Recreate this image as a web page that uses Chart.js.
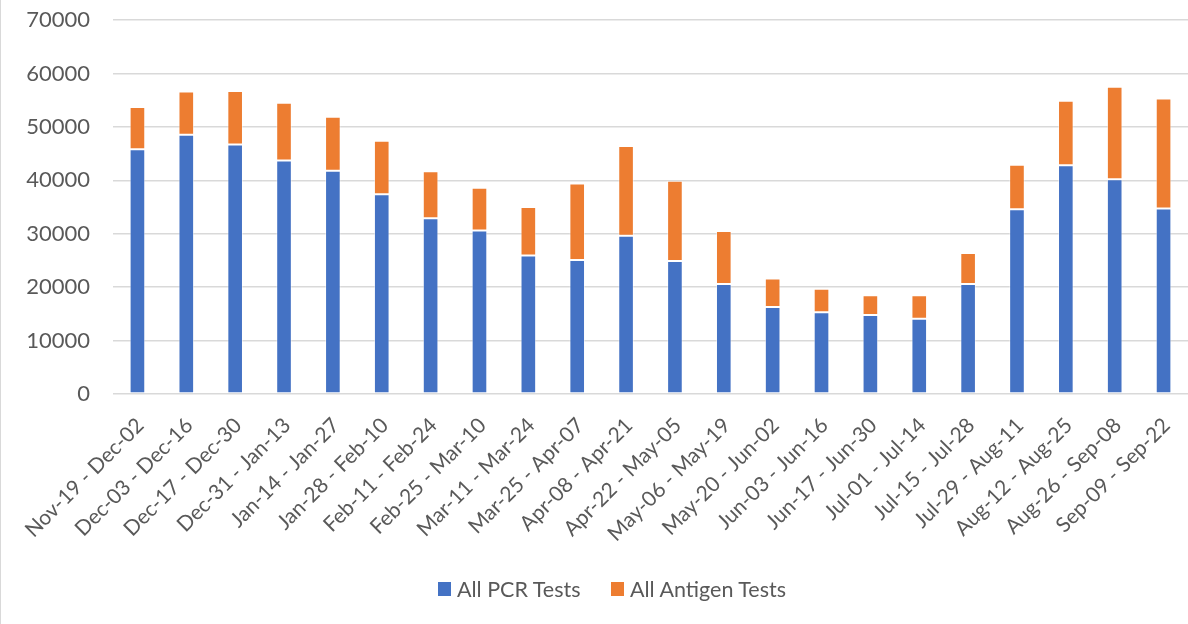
<!DOCTYPE html>
<html>
<head>
<meta charset="utf-8">
<script src="https://cdn.jsdelivr.net/npm/chart.js@4/dist/chart.umd.min.js"></script>
<style>
  html, body { margin: 0; padding: 0; background: #ffffff; overflow: hidden; }
  #wrap { position: relative; width: 1188px; height: 624px; }
  #edge { position: absolute; left: 0; top: 0; width: 1px; height: 624px; background: #d9d9d9; }
  #legend { position: absolute; top: 576px; left: 0; width: 1188px; height: 26px;
            font-family: Lato, "Open Sans", sans-serif; font-size: 21.5px; color: #595959; }
  .item { position: absolute; top: 0; display: flex; align-items: center; height: 26px; white-space: nowrap; }
  .box { width: 13px; height: 14px; margin-right: 6px; }
</style>
</head>
<body>
<div id="wrap">
  <canvas id="c" width="1188" height="624"></canvas>
  <div id="edge"></div>
  <div id="legend"></div>
</div>
<script>
const categories = [
  "Nov-19 - Dec-02", "Dec-03 - Dec-16", "Dec-17 - Dec-30", "Dec-31 - Jan-13",
  "Jan-14 - Jan-27", "Jan-28 - Feb-10", "Feb-11 - Feb-24", "Feb-25 - Mar-10",
  "Mar-11 - Mar-24", "Mar-25 - Apr-07", "Apr-08 - Apr-21", "Apr-22 - May-05",
  "May-06 - May-19", "May-20 - Jun-02", "Jun-03 - Jun-16", "Jun-17 - Jun-30",
  "Jul-01 - Jul-14", "Jul-15 - Jul-28", "Jul-29 - Aug-11", "Aug-12 - Aug-25",
  "Aug-26 - Sep-08", "Sep-09 - Sep-22"
];
const pcrTests = [
  45800, 48500, 46700, 43700, 41800, 37400, 32900, 30600, 25900, 25100, 29600,
  24900, 20600, 16300, 15300, 14800, 14100, 20600, 34600, 42800, 40200, 34700
];
const antigenTests = [
  7900, 8100, 10000, 10800, 10100, 10000, 8800, 8000, 9100, 14300, 16800,
  15000, 9900, 5300, 4400, 3700, 4400, 5800, 8300, 12100, 17300, 20600
];
const yTicks = [0, 10000, 20000, 30000, 40000, 50000, 60000, 70000];
const seriesNames = ["All PCR Tests", "All Antigen Tests"];
const seriesColors = ["#4472C4", "#ED7D31"];

const FONT = "Lato, 'Open Sans', sans-serif";

new Chart(document.getElementById("c"), {
  type: "bar",
  data: {
    labels: categories,
    datasets: [
      { label: seriesNames[0], data: pcrTests, backgroundColor: seriesColors[0],
        borderColor: "rgba(255,255,255,0.45)", borderWidth: 1, borderSkipped: false },
      { label: seriesNames[1], data: antigenTests, backgroundColor: seriesColors[1],
        borderColor: "rgba(255,255,255,0.45)", borderWidth: 1, borderSkipped: false }
    ]
  },
  options: {
    responsive: false,
    animation: false,
    devicePixelRatio: 1,
    datasets: { bar: { categoryPercentage: 1.0, barPercentage: 0.32 } },
    layout: { padding: { left: 0, top: 20, right: -3, bottom: 70 } },
    plugins: { legend: { display: false }, tooltip: { enabled: false } },
    scales: {
      x: {
        stacked: true,
        grid: { display: false },
        border: { display: false },
        ticks: {
          color: "#595959", font: { family: FONT, size: 21 },
          minRotation: 45, maxRotation: 45, autoSkip: false, padding: 11, labelOffset: 3
        },
        afterFit: (s) => { s.height = 160; s.paddingLeft = 0; s.paddingRight = 0; }
      },
      y: {
        stacked: true,
        min: 0, max: 70000,
        afterBuildTicks: (axis) => { axis.ticks = yTicks.map(v => ({ value: v })); },
        grid: { color: "#d9d9d9", lineWidth: 1.5, drawTicks: false },
        border: { display: false },
        ticks: { color: "#595959", font: { family: FONT, size: 22 }, padding: 23,
                 callback: (v) => String(v) },
        afterFit: (s) => { s.width = 113; s.paddingTop = 0; s.paddingBottom = 0; }
      }
    }
  }
});

// HTML legend
const legend = document.getElementById("legend");
const lefts = [438, 611];
seriesNames.forEach((name, i) => {
  const it = document.createElement("div");
  it.className = "item";
  it.style.left = lefts[i] + "px";
  const b = document.createElement("div");
  b.className = "box";
  b.style.background = seriesColors[i];
  const t = document.createElement("span");
  t.textContent = name;
  it.appendChild(b); it.appendChild(t);
  legend.appendChild(it);
});
</script>
</body>
</html>
